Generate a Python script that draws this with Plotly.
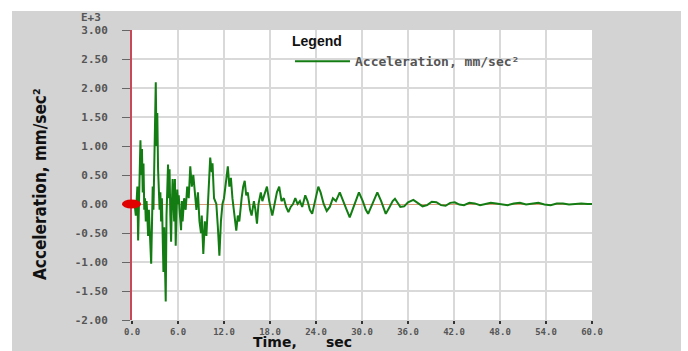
import plotly.graph_objects as go

# ---------------- data ----------------
time_s = [
    0.0, 0.3, 0.5, 0.7, 0.8, 0.9, 1.0, 1.1, 1.2, 1.3, 1.4, 1.5, 1.6, 1.7, 1.8, 1.9,
    2.0, 2.1, 2.2, 2.3, 2.4, 2.5, 2.6, 2.7, 2.8, 2.9, 3.0, 3.1, 3.2, 3.3, 3.4, 3.5,
    3.6, 3.7, 3.8, 3.9, 4.0, 4.1, 4.2, 4.3, 4.4, 4.5, 4.6, 4.7, 4.8, 4.9, 5.0, 5.1,
    5.2, 5.3, 5.4, 5.5, 5.6, 5.7, 5.8, 5.9, 6.0, 6.1, 6.2, 6.4, 6.5, 6.6, 6.8, 7.0,
    7.2, 7.4, 7.6, 7.8, 8.0, 8.2, 8.4, 8.6, 8.8, 9.0, 9.1, 9.3, 9.5, 9.7, 9.9, 10.0,
    10.2, 10.4, 10.5, 10.7, 11.0, 11.2, 11.4, 11.6, 11.8, 12.0, 12.3, 12.5, 12.7, 12.9,
    13.1, 13.3, 13.6, 13.8, 14.0, 14.3, 14.5, 14.7, 14.9, 15.1, 15.4, 15.6, 15.9, 16.1,
    16.3, 16.5, 16.8, 17.0, 17.3, 17.6, 17.9, 18.1, 18.3, 18.6, 18.9, 19.2, 19.5, 19.8,
    20.1, 20.4, 20.7, 21.0, 21.3, 21.6, 21.9, 22.2, 22.6, 22.9, 23.2, 23.5, 23.9, 24.3,
    24.6, 25.0, 25.4, 25.8, 26.2, 26.6, 27.1, 27.6, 28.0, 28.4, 28.9, 29.3, 29.6, 30.1,
    30.5, 30.8, 31.2, 31.6, 32.0, 32.5, 32.8, 33.1, 33.6, 34.0, 34.3, 34.7, 35.0, 35.5,
    36.0, 36.7, 37.3, 37.9, 38.5, 39.1, 39.7, 40.3, 40.9, 41.5, 42.1, 42.7, 43.3, 44.0,
    44.7, 45.4, 46.1, 46.8, 47.5, 48.2, 49.0, 49.8, 50.6, 51.4, 52.2, 53.0, 53.8, 54.6,
    55.4, 56.2, 57.0, 57.8, 58.6, 59.4, 60.0,
]
accel_e3 = [
    0.0, 0.05, -0.2, 0.3, -0.63, 0.2, 0.85, 1.1, 0.5, 0.95, 0.2, 0.7, -0.1, 0.1, -0.3, 0.05,
    -0.2, -0.55, -0.1, -0.35, -0.6, -1.03, -0.4, 0.3, -0.1, 0.5, 0.9, 2.1, 1.0, 1.57, 0.6, 0.3,
    -0.1, 0.2, -0.3, 0.1, -0.6, -1.17, -0.4, -0.9, -1.68, -0.2, 0.35, 0.68, 0.1, 0.6, -0.2, -0.65,
    0.0, 0.43, 0.1, -0.3, 0.43, -0.72, -0.2, 0.25, 0.0, 0.15, -0.1, -0.45, 0.05, -0.3, 0.1, -0.1,
    0.3, 0.1, 0.65, 0.3, 0.5, 0.2, -0.1, 0.2, -0.3, -0.5, -0.2, -0.86, -0.3, -0.55, 0.0, 0.3,
    0.8, 0.55, 0.7, 0.1, 0.0, -0.4, -0.89, -0.3, 0.0, 0.1, 0.4, 0.65, 0.3, 0.45,
    0.1, -0.1, -0.46, -0.2, -0.3, 0.1, 0.3, 0.4, 0.15, 0.2, -0.1, -0.2, 0.05, -0.1,
    -0.34, 0.0, 0.2, 0.05, 0.2, 0.3, 0.05, -0.1, -0.2, 0.0, 0.2, 0.3, 0.05, 0.1,
    -0.05, -0.14, -0.05, 0.0, 0.1, 0.0, 0.05, -0.05, 0.15, 0.05, -0.1, -0.17, 0.05, 0.3,
    0.2, 0.0, -0.12, -0.05, 0.1, 0.05, 0.2, 0.05, -0.1, -0.23, -0.05, 0.1, 0.2, 0.05,
    -0.1, -0.17, -0.05, 0.1, 0.2, 0.05, -0.08, -0.17, -0.05, 0.05, 0.09, 0.02, -0.05, -0.04,
    0.03, 0.07, 0.02, -0.04, -0.02, 0.04, 0.03, -0.02, -0.03, 0.02, 0.03, -0.01, -0.02, 0.02,
    0.01, -0.02, 0.0, 0.02, 0.01, -0.01, -0.02, 0.01, 0.02, -0.01, 0.0, 0.02, -0.01, -0.02,
    0.01, 0.01, -0.01, 0.0, 0.01, 0.0, 0.0,
]
x_tickvals = [0, 6, 12, 18, 24, 30, 36, 42, 48, 54, 60]
x_ticktext = ["0.0", "6.0", "12.0", "18.0", "24.0", "30.0", "36.0", "42.0", "48.0", "54.0", "60.0"]
y_tickvals = [-2.0, -1.5, -1.0, -0.5, 0.0, 0.5, 1.0, 1.5, 2.0, 2.5, 3.0]
y_ticktext = ["-2.00", "-1.50", "-1.00", "-0.50", "0.00", "0.50", "1.00", "1.50", "2.00", "2.50", "3.00"]
x_range = [0, 60]
y_range = [-2.0, 3.0]
origin_x = 0.0
origin_y = 0.0

# ---------------- geometry ----------------
W, H = 688, 351
L, R, T, B = 132, 96, 30, 31
PW, PH = W - L - R, H - T - B


def px_x(p):
    return (p - L) / PW


def px_y(p):
    return (H - B - p) / PH


y_tick_font = dict(family="DejaVu Sans Mono, Liberation Mono, monospace", size=11, color="#555555", weight="bold")
x_tick_font = dict(family="DejaVu Sans Mono, Liberation Mono, monospace", size=9, color="#555555", weight="bold")

fig = go.Figure()
fig.add_trace(go.Scatter(
    x=time_s, y=accel_e3, mode="lines",
    name="Acceleration, mm/sec²",
    line=dict(color="#137d13", width=2),
))

# origin marker anchored at the data origin (pixel-sized ellipse)
y_anchor_paper = (origin_y - y_range[0]) / (y_range[1] - y_range[0])
x_anchor_paper = (origin_x - x_range[0]) / (x_range[1] - x_range[0])

shapes = [
    # white page edges outside the grey frame
    dict(type="rect", xref="paper", yref="paper", x0=px_x(-5), x1=px_x(12), y0=px_y(360), y1=px_y(-5),
         fillcolor="white", line_width=0, layer="below"),
    dict(type="rect", xref="paper", yref="paper", x0=px_x(-5), x1=px_x(700), y0=px_y(11), y1=px_y(-5),
         fillcolor="white", line_width=0, layer="below"),
    dict(type="rect", xref="paper", yref="paper", x0=px_x(681), x1=px_x(700), y0=px_y(360), y1=px_y(-5),
         fillcolor="white", line_width=0, layer="below"),
    dict(type="circle", xref="paper", yref="paper",
         xsizemode="pixel", ysizemode="pixel",
         xanchor=x_anchor_paper, yanchor=y_anchor_paper,
         x0=-10, x1=9, y0=-4.5, y1=4.5,
         fillcolor="#e00000", line_width=0, layer="above"),
]

annotations = [
    dict(text="E+3", xref="paper", yref="paper", x=px_x(91), y=px_y(17), showarrow=False,
         xanchor="center", yanchor="middle",
         font=dict(family="DejaVu Sans Mono, monospace", size=11, color="#555555", weight="bold")),
    dict(text="Acceleration, mm/sec²", xref="paper", yref="paper", x=px_x(40), y=px_y(184), showarrow=False,
         textangle=-90, xanchor="center", yanchor="middle",
         font=dict(family="Liberation Sans Narrow, DejaVu Sans Condensed, Arial Narrow, sans-serif", size=17,
                   color="#111111", weight="bold")),
    dict(text="Time," + "\u00a0" * 6 + "sec", xref="paper", yref="paper", x=px_x(302), y=px_y(351),
         showarrow=False, xanchor="center", yanchor="bottom", borderpad=0,
         font=dict(family="DejaVu Sans, Liberation Sans, sans-serif", size=14, color="#111111", weight="bold")),
]

fig.update_layout(
    width=W, height=H,
    margin=dict(l=L, r=R, t=T, b=B, pad=0),
    paper_bgcolor="#d3d3d3",
    plot_bgcolor="white",
    shapes=shapes,
    annotations=annotations,
    showlegend=True,
    legend=dict(
        x=px_x(290), y=px_y(28), xanchor="left", yanchor="top",
        bgcolor="rgba(0,0,0,0)",
        title=dict(text="Legend", font=dict(family="Liberation Sans, Arial, sans-serif", size=14,
                                             color="#111111", weight="bold")),
        font=dict(family="DejaVu Sans Mono, Liberation Mono, monospace", size=13, color="#555555", weight="bold"),
        itemwidth=55,
    ),
    xaxis=dict(
        range=x_range, tickvals=x_tickvals, ticktext=x_ticktext,
        showgrid=True, gridcolor="#d9d9d9", gridwidth=1.5,
        zeroline=False, showline=False, automargin=False,
        ticks="outside", ticklen=3, tickwidth=2, tickcolor="#333333",
        tickfont=x_tick_font, ticklabelstandoff=0,
    ),
    yaxis=dict(
        range=y_range, tickvals=y_tickvals, ticktext=y_ticktext,
        showgrid=True, gridcolor="#d9d9d9", gridwidth=1.5,
        zeroline=True, zerolinecolor="#d69a7a", zerolinewidth=1.2,
        showline=True, linecolor="#c8485a", linewidth=2, automargin=False,
        ticks="outside", ticklen=8, tickwidth=1, tickcolor="#666666",
        tickfont=y_tick_font, ticklabelstandoff=12,
    ),
)

fig.write_html("out.html")
